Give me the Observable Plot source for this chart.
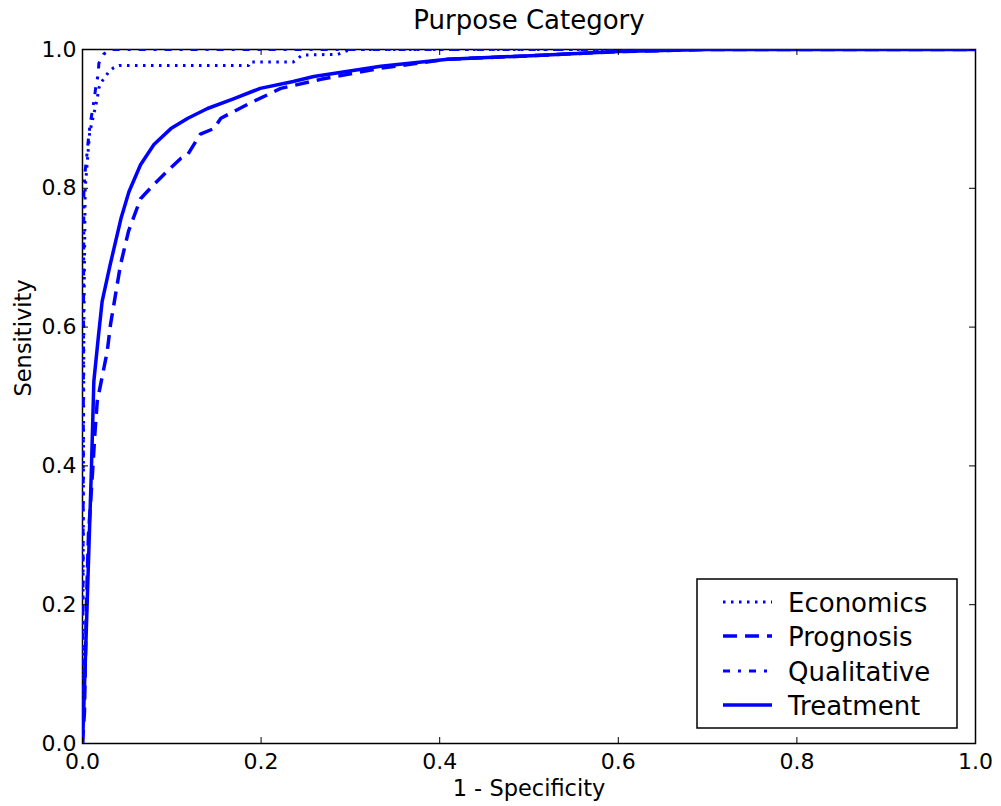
<!DOCTYPE html>
<html><head><meta charset="utf-8">
<script src="https://cdn.jsdelivr.net/npm/d3@7"></script>
<script src="https://cdn.jsdelivr.net/npm/@observablehq/plot@0.6"></script>
<style>
body{margin:0;background:#fff;}
#chart{position:relative;width:1001px;height:806px;font-family:"DejaVu Sans",sans-serif;}
#legend{position:absolute;left:0;top:0;pointer-events:none;}
</style>
</head><body><div id="chart"></div>
<script>
const xTicks = [0.0, 0.2, 0.4, 0.6, 0.8, 1.0];
const yTicks = [0.0, 0.2, 0.4, 0.6, 0.8, 1.0];
const seriesNames = ["Economics", "Prognosis", "Qualitative", "Treatment"];

const economicsFpr = [0, 0.0008, 0.0015, 0.003, 0.008, 0.0165, 0.0183, 0.020, 0.024, 0.0295, 0.035, 0.041, 0.186, 0.187, 0.236, 0.246, 0.286, 0.30, 1.0];
const economicsTpr = [0, 0.30, 0.60, 0.80, 0.88, 0.929, 0.944, 0.951, 0.958, 0.968, 0.974, 0.977, 0.977, 0.982, 0.982, 0.992, 0.993, 1.0, 1.0];

const prognosisFpr = [0, 0.0022, 0.0034, 0.0045, 0.0067, 0.0115, 0.0138, 0.0165, 0.0277, 0.0314, 0.0426, 0.0515, 0.065, 0.0795, 0.0985, 0.110, 0.118, 0.132, 0.147, 0.155, 0.185, 0.222, 0.267, 0.334, 0.409, 0.502, 0.60, 0.70, 1.0];
const prognosisTpr = [0, 0.046, 0.133, 0.205, 0.301, 0.396, 0.445, 0.493, 0.565, 0.604, 0.690, 0.738, 0.785, 0.805, 0.829, 0.843, 0.849, 0.878, 0.886, 0.901, 0.921, 0.944, 0.957, 0.973, 0.986, 0.991, 0.997, 1.0, 1.0];

const qualitativeFpr = [0, 0.0003, 0.0006, 0.0009, 0.0012, 0.0015, 0.0026, 0.0053, 0.0071, 0.009, 0.0115, 0.0138, 0.0153, 0.0176, 0.0183, 0.0235, 0.028, 0.031, 1.0];
const qualitativeTpr = [0, 0.10, 0.25, 0.45, 0.65, 0.791, 0.820, 0.853, 0.8775, 0.896, 0.915, 0.935, 0.950, 0.964, 0.980, 0.993, 0.997, 1.0, 1.0];

const treatmentFpr = [0, 0.0017, 0.0053, 0.010, 0.0127, 0.018, 0.022, 0.031, 0.043, 0.052, 0.065, 0.080, 0.099, 0.118, 0.140, 0.169, 0.199, 0.236, 0.259, 0.334, 0.409, 0.502, 0.60, 0.70, 1.0];
const treatmentTpr = [0, 0.061, 0.205, 0.396, 0.522, 0.589, 0.637, 0.690, 0.756, 0.795, 0.834, 0.863, 0.886, 0.901, 0.915, 0.929, 0.944, 0.954, 0.961, 0.976, 0.986, 0.991, 0.997, 1.0, 1.0];

const toRows = (xs, ys) => xs.map((x, i) => ({x, y: ys[i]}));

const blue = "#0000ff";
const styles = {
  Economics:   {strokeWidth: 3,   strokeDasharray: "2.5,5.5"},
  Prognosis:   {strokeWidth: 3.5, strokeDasharray: "14,8"},
  Qualitative: {strokeWidth: 3,   strokeDasharray: "7,8,3,8"},
  Treatment:   {strokeWidth: 3.5, strokeDasharray: null}
};
const data = {
  Economics: toRows(economicsFpr, economicsTpr),
  Prognosis: toRows(prognosisFpr, prognosisTpr),
  Qualitative: toRows(qualitativeFpr, qualitativeTpr),
  Treatment: toRows(treatmentFpr, treatmentTpr)
};

const W = 1001, H = 806, mL = 82, mR = 26, mT = 49, mB = 63;
const fw = W - mL - mR, fh = H - mT - mB, tick = 6;
const fmt = d3.format(".1f");

const lineMarks = seriesNames.map(n => Plot.line(data[n], {
  x: "x", y: "y", stroke: blue, strokeWidth: styles[n].strokeWidth, clip: true,
  strokeDasharray: styles[n].strokeDasharray || undefined, strokeLinecap: "butt", strokeLinejoin: "round"
}));

const chart = Plot.plot({
  width: W, height: H,
  marginLeft: mL, marginRight: mR, marginTop: mT, marginBottom: mB,
  style: {fontFamily: "DejaVu Sans, sans-serif", background: "#fff", color: "#000", overflow: "visible"},
  x: {domain: [0, 1]},
  y: {domain: [0, 1]},
  marks: [
    Plot.frame({stroke: "#000", strokeWidth: 1.5}),
    ...lineMarks,
    Plot.ruleX(xTicks, {x: d => d, insetTop: fh - tick, stroke: "#000", strokeWidth: 1}),
    Plot.ruleX(xTicks, {x: d => d, insetBottom: fh - tick, stroke: "#000", strokeWidth: 1}),
    Plot.ruleY(yTicks, {y: d => d, insetRight: fw - tick, stroke: "#000", strokeWidth: 1}),
    Plot.ruleY(yTicks, {y: d => d, insetLeft: fw - tick, stroke: "#000", strokeWidth: 1}),
    Plot.axisX({ticks: xTicks, tickSize: 0, tickPadding: 10, tickFormat: fmt, fontSize: 22, label: null}),
    Plot.axisY({ticks: yTicks, tickSize: 0, tickPadding: 6, tickFormat: fmt, fontSize: 22, label: null}),
    Plot.text(["Purpose Category"], {frameAnchor: "top", dy: -21, lineAnchor: "bottom", fontSize: 26, fill: "#000"}),
    Plot.text(["1 - Specificity"], {frameAnchor: "bottom", dy: 52, lineAnchor: "bottom", fontSize: 22.5, fill: "#000"}),
    Plot.text(["Sensitivity"], {frameAnchor: "left", dx: -59, rotate: -90, lineAnchor: "middle", fontSize: 22.5, fill: "#000"})
  ]
});

const root = document.getElementById("chart");
root.appendChild(chart);

// legend overlay
const ns = "http://www.w3.org/2000/svg";
const lg = document.createElementNS(ns, "svg");
lg.setAttribute("id", "legend");
lg.setAttribute("width", W);
lg.setAttribute("height", H);
const box = document.createElementNS(ns, "rect");
box.setAttribute("x", 697); box.setAttribute("y", 579);
box.setAttribute("width", 260); box.setAttribute("height", 149);
box.setAttribute("fill", "#fff"); box.setAttribute("stroke", "#000"); box.setAttribute("stroke-width", 1.5);
lg.appendChild(box);
const rowY = [602, 636, 671, 705];
seriesNames.forEach((n, i) => {
  const ln = document.createElementNS(ns, "line");
  ln.setAttribute("x1", 723); ln.setAttribute("x2", 772);
  ln.setAttribute("y1", rowY[i]); ln.setAttribute("y2", rowY[i]);
  ln.setAttribute("stroke", blue);
  ln.setAttribute("stroke-width", styles[n].strokeWidth);
  if (styles[n].strokeDasharray) ln.setAttribute("stroke-dasharray", styles[n].strokeDasharray);
  lg.appendChild(ln);
  const tx = document.createElementNS(ns, "text");
  tx.setAttribute("x", 788); tx.setAttribute("y", rowY[i] + 10);
  tx.setAttribute("font-size", 26);
  tx.setAttribute("font-family", "DejaVu Sans, sans-serif");
  tx.setAttribute("fill", "#000");
  tx.textContent = n;
  lg.appendChild(tx);
});
root.appendChild(lg);
</script>
</body></html>
